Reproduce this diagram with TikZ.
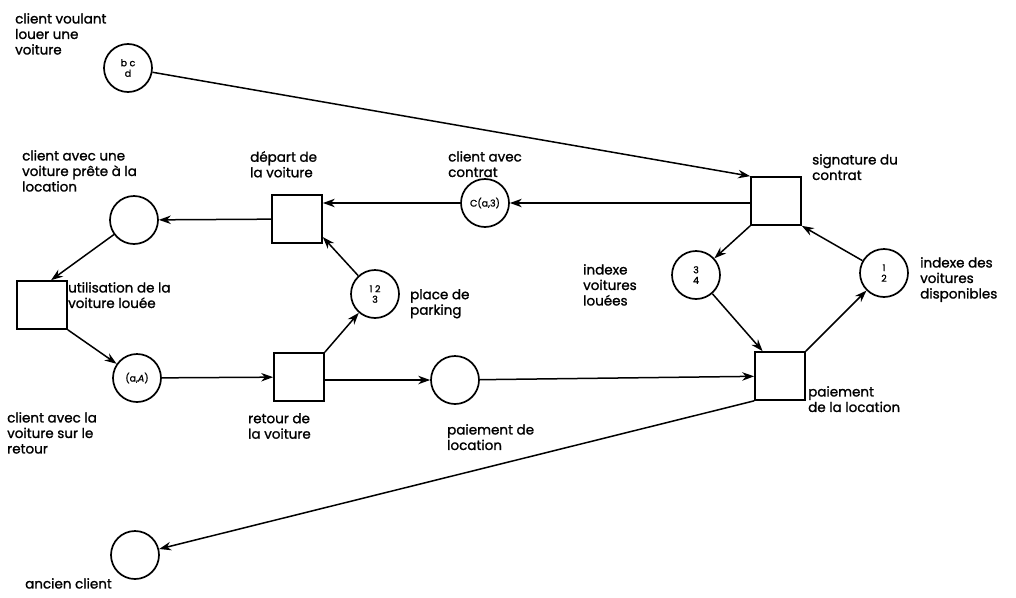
\documentclass[tikz,border=0pt]{standalone}
\usepackage{fontspec}
\setmainfont{Poppins}
\newfontfamily\lblfont{Poppins}[FakeBold=1.2]
\usetikzlibrary{arrows.meta}
\begin{document}
\begin{tikzpicture}[x=1pt,y=-1pt,
  place/.style={circle,draw,line width=1.7pt,minimum size=48pt,inner sep=0pt,font=\lblfont\fontsize{9.5}{10.5}\selectfont,align=center},
  trans/.style={rectangle,draw,line width=1.7pt,minimum width=50pt,minimum height=48pt,inner sep=0pt},
  lbl/.style={anchor=north west,align=left,inner sep=0pt,font=\lblfont\fontsize{13.5}{15.5}\selectfont},
  arc/.style={line width=1.5pt,-{Stealth[length=12pt,width=8.5pt]}}]
\useasboundingbox (0,0) rectangle (1016,597);
% places
\node[place] (pclient) at (128,68) {b c\\d};
\node[place] (pcontrat) at (485,203) {C(a,3)};
\node[place] (pprete) at (134,220) {};
\node[place] (pparking) at (375,294) {1 2\\3};
\node[place] (pretour) at (137,378) {(a,\textit{A})};
\node[place] (ppaiement) at (455,380) {};
\node[place] (ploues) at (696,275) {3\\4};
\node[place] (pdispo) at (884,273) {1\\2};
\node[place] (pancien) at (135,555) {};
% transitions
\node[trans] (tdepart) at (297,219) {};
\node[trans] (tutil) at (42,305) {};
\node[trans] (tretour) at (299,377) {};
\node[trans] (tsig) at (776,201) {};
\node[trans] (tpai) at (780,376) {};
% labels
\node[lbl] (l1) at (15,13) {client voulant\\louer une\\voiture};
\node[lbl] (l2) at (22,150) {client avec une\\voiture prête à la\\location};
\node[lbl] (l3) at (250,151) {départ de\\la voiture};
\node[lbl] (l4) at (448,151) {client avec\\contrat};
\node[lbl] (l5) at (812,154) {signature du\\contrat};
\node[lbl] (l6) at (68,282) {utilisation de la\\voiture louée};
\node[lbl] (l7) at (410,289) {place de\\parking};
\node[lbl] (l8) at (583,264) {indexe\\voitures\\louées};
\node[lbl] (l9) at (920,257) {indexe des\\voitures\\disponibles};
\node[lbl] (l10) at (7,412) {client avec la\\voiture sur le\\retour};
\node[lbl] (l11) at (248,413) {retour de\\la voiture};
\node[lbl] (l12) at (447,424) {paiement de\\location};
\node[lbl] (l13) at (808,386) {paiement\\de la location};
\node[lbl] (l14) at (25,578) {ancien client};
% arcs
\draw[arc] (pclient) -- (tsig.north west);
\draw[arc] (tsig.west |- pcontrat) -- (pcontrat);
\draw[arc] (pcontrat) -- (pcontrat -| tdepart.east);
\draw[arc] (tdepart) -- (pprete);
\draw[arc] (pprete) -- (tutil.70);
\draw[arc] (tutil.south east) -- (pretour);
\draw[arc] (pretour) -- (tretour);
\draw[arc] (tretour.north east) -- (pparking);
\draw[arc] (pparking) -- (tdepart.-35);
\draw[arc] (tretour.east |- ppaiement) -- (ppaiement);
\draw[arc] (ppaiement) -- (tpai);
\draw[arc] (tsig.south west) -- (ploues);
\draw[arc] (ploues) -- (tpai.125);
\draw[arc] (tpai.north east) -- (pdispo);
\draw[arc] (pdispo) -- (tsig.south east);
\draw[arc] (tpai.south west) -- (pancien);
\end{tikzpicture}
\end{document}
